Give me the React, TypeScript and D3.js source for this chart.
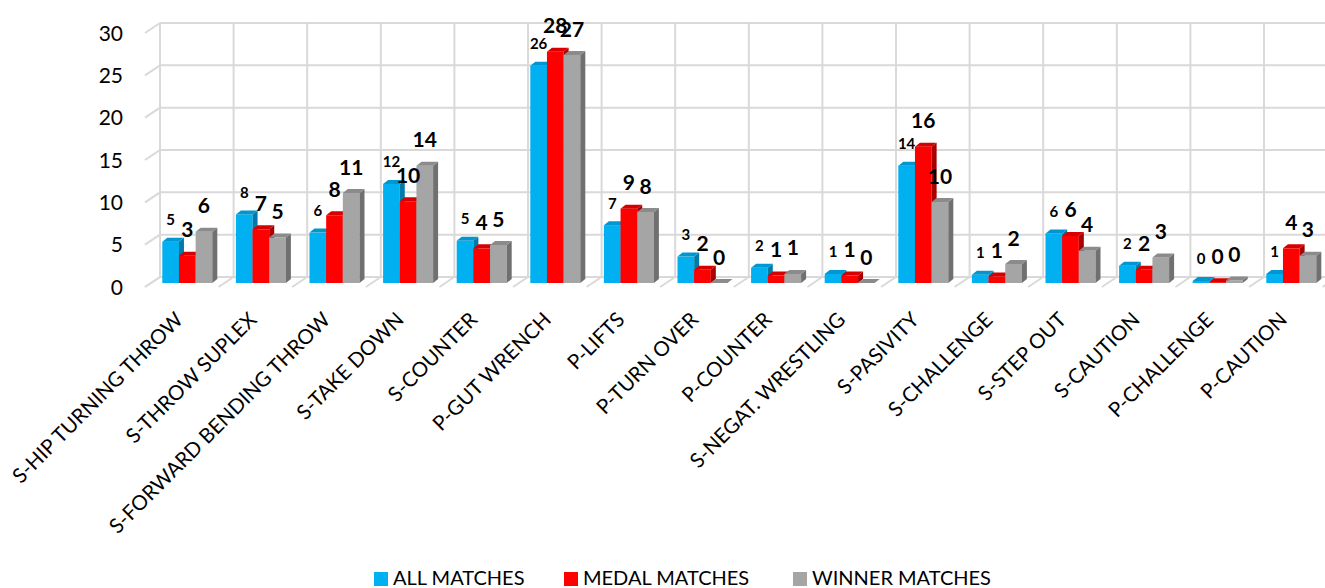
import React, { useEffect, useRef } from "react";
import * as d3 from "d3";

const CHART_WIDTH = 1325;
const CHART_HEIGHT = 588;

const categories = [
  "S-HIP TURNING THROW",
  "S-THROW SUPLEX",
  "S-FORWARD BENDING THROW",
  "S-TAKE DOWN",
  "S-COUNTER",
  "P-GUT WRENCH",
  "P-LIFTS",
  "P-TURN OVER",
  "P-COUNTER",
  "S-NEGAT. WRESTLING",
  "S-PASIVITY",
  "S-CHALLENGE",
  "S-STEP OUT",
  "S-CAUTION",
  "P-CHALLENGE",
  "P-CAUTION",
];

const seriesNames = ["ALL MATCHES", "MEDAL MATCHES", "WINNER MATCHES"];

// bar heights as drawn
const allMatches = [5.0, 8.3, 6.1, 12.0, 5.1, 26.3, 7.0, 3.2, 1.85, 1.1, 14.2, 1.0, 6.0, 2.1, 0.25, 1.1];
const medalMatches = [3.3, 6.5, 8.2, 9.9, 4.2, 28.0, 9.0, 1.6, 0.9, 0.9, 16.5, 0.8, 5.7, 1.6, 0.1, 4.2];
const winnerMatches = [6.2, 5.5, 10.9, 14.2, 4.6, 27.6, 8.6, 0, 1.1, 0, 9.8, 2.3, 3.9, 3.1, 0.3, 3.3];

// data labels as printed
const allLabels = ["5", "8", "6", "12", "5", "26", "7", "3", "2", "1", "14", "1", "6", "2", "0", "1"];
const medalLabels = ["3", "7", "8", "10", "4", "28", "9", "2", "1", "1", "16", "1", "6", "2", "0", "4"];
const winnerLabels = ["6", "5", "11", "14", "5", "27", "8", "0", "1", "0", "10", "2", "4", "3", "0", "3"];

const yTicks = [0, 5, 10, 15, 20, 25, 30];

const FONT = "Lato, 'Open Sans', sans-serif";

const App: React.FC = () => {
  const ref = useRef<SVGSVGElement>(null);

  useEffect(() => {
    if (!ref.current) return;
    const svg = d3.select(ref.current);
    svg.selectAll("*").remove();

    const values = [allMatches, medalMatches, winnerMatches];
    const labels = [allLabels, medalLabels, winnerLabels];
    const colors = [
      { front: "#00b0f0", top: "#0096cf", side: "#007aa8" },
      { front: "#ff0000", top: "#d60000", side: "#a80000" },
      { front: "#a5a5a5", top: "#8b8b8b", side: "#707070" },
    ];
    const labelSize = [15, 21, 21];
    const labelGap = [22, 26, 26];

    // back wall / front plane geometry
    const depthX = 15;
    const depthY = 10;
    const x = d3.scaleBand<string>().domain(categories).range([160, 160 + 73.6 * 16]);
    const xs = d3.scaleBand<string>().domain(seriesNames).range([0, 50]);
    const yBack = d3.scaleLinear().domain([0, 30]).range([277, 23]);
    const yFront = d3.scaleLinear().domain([0, 30]).range([283, 283 - 30 * 8.26]);
    const capX = 5;
    const capY = 4;

    const grid = svg.append("g").attr("stroke", "#d9d9d9").attr("stroke-width", 2).attr("fill", "none");
    const [x0, x1] = x.range();

    // horizontal gridlines and tick diagonals
    yTicks.forEach((t) => {
      grid.append("line").attr("x1", x0).attr("x2", x1).attr("y1", yBack(t)).attr("y2", yBack(t));
      grid
        .append("line")
        .attr("x1", x0 - depthX)
        .attr("y1", yBack(t) + depthY)
        .attr("x2", x0)
        .attr("y2", yBack(t));
    });

    // vertical gridlines and floor diagonals
    const edges = categories.map((c) => x(c) as number).concat([x1]);
    edges.forEach((ex) => {
      grid.append("line").attr("x1", ex).attr("x2", ex).attr("y1", yBack(30)).attr("y2", yBack(0));
      grid
        .append("line")
        .attr("x1", ex - depthX)
        .attr("y1", yBack(0) + depthY)
        .attr("x2", ex)
        .attr("y2", yBack(0));
    });

    // y axis labels
    svg
      .append("g")
      .selectAll("text")
      .data(yTicks)
      .enter()
      .append("text")
      .attr("x", 123)
      .attr("y", (d) => yBack(d) + depthY)
      .attr("dy", "0.36em")
      .attr("text-anchor", "end")
      .style("font-family", FONT)
      .style("font-size", "21px")
      .attr("fill", "#000")
      .text((d) => d);

    // bars
    const bars = svg.append("g");
    categories.forEach((cat, i) => {
      seriesNames.forEach((s, j) => {
        const v = values[j][i];
        const bx = (x(cat) as number) + 2.3 + (xs(s) as number);
        const bw = xs.bandwidth();
        const y0 = yFront(0);
        const yt = yFront(v);
        const c = colors[j];
        bars
          .append("rect")
          .attr("x", bx)
          .attr("y", yt)
          .attr("width", bw)
          .attr("height", y0 - yt)
          .attr("fill", c.front);
        bars
          .append("path")
          .attr(
            "d",
            `M${bx + bw},${yt} L${bx + bw + capX},${yt - capY} L${bx + bw + capX},${y0 - capY} L${bx + bw},${y0} Z`
          )
          .attr("fill", c.side);
        bars
          .append("path")
          .attr(
            "d",
            `M${bx},${yt} L${bx + capX},${yt - capY} L${bx + bw + capX},${yt - capY} L${bx + bw},${yt} Z`
          )
          .attr("fill", c.top);
      });
    });

    // data labels
    const lbl = svg.append("g");
    categories.forEach((cat, i) => {
      seriesNames.forEach((s, j) => {
        const bx = (x(cat) as number) + 2.3 + (xs(s) as number) + xs.bandwidth() / 2;
        lbl
          .append("text")
          .attr("x", bx)
          .attr("y", yFront(values[j][i]) - labelGap[j])
          .attr("dy", "0.36em")
          .attr("text-anchor", "middle")
          .style("font-family", FONT)
          .style("font-weight", "bold")
          .style("font-size", `${labelSize[j]}px`)
          .attr("fill", "#000")
          .text(labels[j][i]);
      });
    });

    // category labels
    svg
      .append("g")
      .selectAll("text")
      .data(categories)
      .enter()
      .append("text")
      .attr("transform", (d) => {
        const cx = (x(d) as number) + 2.3 + 25 - 3;
        return `translate(${cx},321) rotate(-45)`;
      })
      .attr("text-anchor", "end")
      .style("font-family", FONT)
      .style("font-size", "20.5px")
      .attr("fill", "#000")
      .text((d) => d);

    // legend
    const legendX = [374, 564, 793];
    const legend = svg.append("g");
    seriesNames.forEach((s, j) => {
      legend
        .append("rect")
        .attr("x", legendX[j])
        .attr("y", 572)
        .attr("width", 14)
        .attr("height", 14)
        .attr("fill", colors[j].front);
      legend
        .append("text")
        .attr("x", legendX[j] + 19)
        .attr("y", 585)
        .style("font-family", FONT)
        .style("font-size", "20px")
        .attr("fill", "#000")
        .text(s);
    });
  }, []);

  return (
    <svg
      ref={ref}
      width={CHART_WIDTH}
      height={CHART_HEIGHT}
      viewBox={`0 0 ${CHART_WIDTH} ${CHART_HEIGHT}`}
      style={{ position: "absolute", left: 0, top: 0, background: "#fff", display: "block" }}
    />
  );
};

export default App;
